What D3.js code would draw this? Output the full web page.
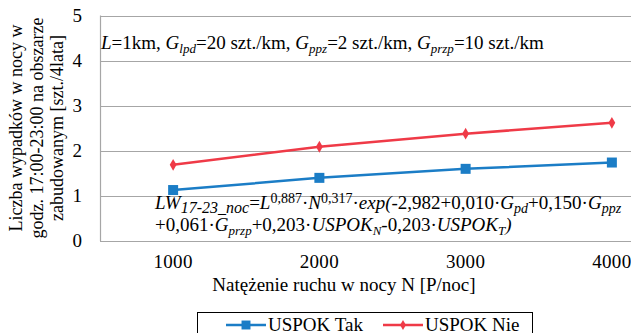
<!DOCTYPE html>
<html>
<head>
<meta charset="utf-8">
<script src="https://cdn.jsdelivr.net/npm/d3@7"></script>
<style>
  body { margin: 0; background: #fff; }
</style>
</head>
<body>
<div id="chart"></div>
<script>
// data
const categories = ["1000", "2000", "3000", "4000"];
const uspokTak = [1.13, 1.40, 1.60, 1.74];
const uspokNie = [1.69, 2.09, 2.38, 2.62];
const yTicks = [0, 1, 2, 3, 4, 5];

const width = 631;
const height = 333;
const marginLeft = 100;
const plotTop = 15.5;
const plotBottom = 241;

const blue = "#1b7dc6";
const red = "#ef3a47";
const fontFamily = '"Liberation Serif", "Times New Roman", monospace';

const svg = d3.select("#chart")
  .append("svg")
  .attr("width", width)
  .attr("height", height)
  .attr("viewBox", [0, 0, width, height])
  .style("display", "block");

// plot area runs past the right edge of the picture
const x = d3.scaleBand()
  .domain(categories)
  .range([marginLeft, 685])
  .padding(0);

const y = d3.scaleLinear()
  .domain([0, 5])
  .range([plotBottom, plotTop]);

const cx = d => x(d) + x.bandwidth() / 2;

// gridlines
svg.append("g")
  .selectAll("line")
  .data(yTicks)
  .join("line")
    .attr("x1", marginLeft)
    .attr("x2", width)
    .attr("y1", d => Math.round(y(d)) + 0.5)
    .attr("y2", d => Math.round(y(d)) + 0.5)
    .attr("stroke", "#a6a6a6")
    .attr("stroke-width", 1.2);

svg.append("line")
  .attr("x1", marginLeft + 0.5)
  .attr("x2", marginLeft + 0.5)
  .attr("y1", y(5))
  .attr("y2", y(0))
  .attr("stroke", "#a6a6a6")
  .attr("stroke-width", 1.2);

// y tick labels
svg.append("g")
  .selectAll("text")
  .data(yTicks)
  .join("text")
    .attr("x", 82)
    .attr("y", d => y(d) + 6)
    .attr("text-anchor", "end")
    .attr("font-size", 19)
    .text(d => d);

// x tick labels
svg.append("g")
  .selectAll("text")
  .data(categories)
  .join("text")
    .attr("x", d => cx(d))
    .attr("y", 268)
    .attr("text-anchor", "middle")
    .attr("font-size", 19)
    .attr("letter-spacing", 0.3)
    .text(d => d);

// axis titles
svg.append("text")
  .attr("x", 344)
  .attr("y", 291)
  .attr("text-anchor", "middle")
  .attr("font-size", 19)
  .text("Natężenie ruchu w nocy N [P/noc]");

const yTitle = ["Liczba wypadków w nocy w", "godz. 17:00-23:00 na obszarze", "zabudowanym [szt./4lata]"];
svg.append("g")
  .attr("transform", "translate(22,128) rotate(-90)")
  .selectAll("text")
  .data(yTitle)
  .join("text")
    .attr("x", 0)
    .attr("y", (d, i) => i * 20.5)
    .attr("text-anchor", "middle")
    .attr("font-size", 18)
    .text(d => d);

// series
const series = [
  {name: "USPOK Tak", values: uspokTak, color: blue, marker: "square"},
  {name: "USPOK Nie", values: uspokNie, color: red, marker: "diamond"}
];

const line = d3.line()
  .x((d, i) => cx(categories[i]))
  .y(d => y(d));

series.forEach(s => {
  svg.append("path")
    .attr("d", line(s.values))
    .attr("fill", "none")
    .attr("stroke", s.color)
    .attr("stroke-width", 2.5);
  svg.append("g")
    .selectAll("path")
    .data(s.values)
    .join("path")
      .attr("transform", (d, i) => `translate(${cx(categories[i])},${y(d)})`)
      .attr("d", s.marker === "square"
        ? d3.symbol(d3.symbolSquare, 100)()
        : d3.symbol(d3.symbolDiamond, 40)())
      .attr("fill", s.color);
});

// helper for rich text runs
function part(el, txt, opts = {}) {
  const t = el.append("tspan").text(txt);
  if (opts.italic) t.attr("font-style", "italic");
  if (opts.size) t.attr("font-size", opts.size);
  if (opts.dy) t.attr("dy", opts.dy);
  return t;
}

// parameter note
const note = svg.append("text")
  .attr("x", 101)
  .attr("y", 49)
  .attr("font-size", 19);
part(note, "L", {italic: true});
part(note, "=1km, ");
part(note, "G", {italic: true});
part(note, "lpd", {italic: true, size: 13, dy: 4});
part(note, "=20 szt./km, ", {dy: -4});
part(note, "G", {italic: true});
part(note, "ppz", {italic: true, size: 13, dy: 4});
part(note, "=2 szt./km, ", {dy: -4});
part(note, "G", {italic: true});
part(note, "przp", {italic: true, size: 13, dy: 4});
part(note, "=10 szt./km", {dy: -4});

// model formula
const f1 = svg.append("text").attr("x", 155).attr("y", 209).attr("font-size", 19);
part(f1, "LW", {italic: true});
part(f1, "17-23_noc", {italic: true, size: 16, dy: 4});
part(f1, "=", {dy: -4});
part(f1, "L", {italic: true});
part(f1, "0,887", {size: 14, dy: -6});
part(f1, "·", {dy: 6});
part(f1, "N", {italic: true});
part(f1, "0,317", {size: 14, dy: -6});
part(f1, "·", {dy: 6});
part(f1, "exp(", {italic: true});
part(f1, "-2,982+0,010·");
part(f1, "G", {italic: true});
part(f1, "pd", {italic: true, size: 14, dy: 4});
part(f1, "+0,150·", {dy: -4});
part(f1, "G", {italic: true});
part(f1, "ppz", {italic: true, size: 14, dy: 4});

const f2 = svg.append("text").attr("x", 155).attr("y", 231).attr("font-size", 19);
part(f2, "+0,061·");
part(f2, "G", {italic: true});
part(f2, "przp", {italic: true, size: 13, dy: 4});
part(f2, "+0,203·", {dy: -4});
part(f2, "USPOK", {italic: true});
part(f2, "N", {italic: true, size: 13, dy: 4});
part(f2, "-0,203·", {dy: -4});
part(f2, "USPOK", {italic: true});
part(f2, "T", {italic: true, size: 13, dy: 4});
part(f2, ")", {italic: true, dy: -4});

// legend (cut by the bottom edge, as in the reference)
const legend = svg.append("g");
legend.append("rect")
  .attr("x", 197.5)
  .attr("y", 312.5)
  .attr("width", 335)
  .attr("height", 40)
  .attr("fill", "#fff")
  .attr("stroke", "#000")
  .attr("stroke-width", 1);

const legX = [226, 383];
series.forEach((s, i) => {
  const g = legend.append("g").attr("transform", `translate(${legX[i]},325)`);
  g.append("line")
    .attr("x1", 0).attr("x2", 40)
    .attr("stroke", s.color)
    .attr("stroke-width", 2.5);
  g.append("path")
    .attr("transform", "translate(20,0)")
    .attr("d", s.marker === "square"
      ? d3.symbol(d3.symbolSquare, 80)()
      : d3.symbol(d3.symbolDiamond, 30)())
    .attr("fill", s.color);
  g.append("text")
    .attr("x", 42)
    .attr("y", 6)
    .attr("font-size", 19)
    .text(s.name);
});

// serif face on every text element
svg.selectAll("text").style("font-family", fontFamily);
</script>
</body>
</html>
